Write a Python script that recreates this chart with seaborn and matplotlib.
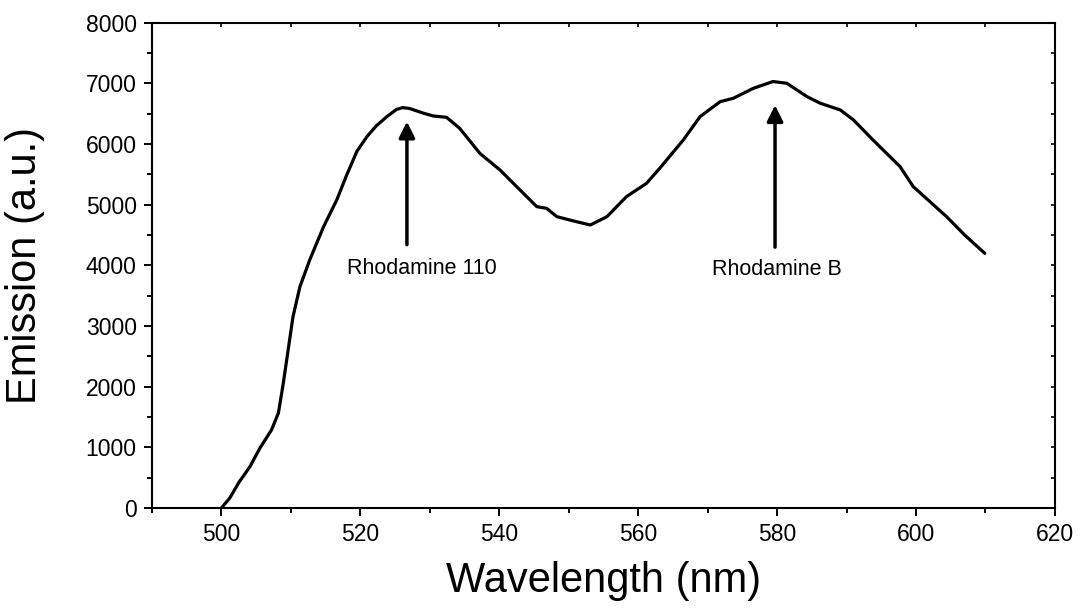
import matplotlib
matplotlib.use("Agg")
import matplotlib.pyplot as plt
import seaborn as sns
import pandas as pd
from matplotlib.ticker import MultipleLocator

wavelength = [500, 501.2, 502.5, 504.1, 505.5, 507.2, 508.2, 508.9, 509.6, 510.3,
              511.3, 512.7, 514.7, 516.6, 518.0, 519.5, 521.0, 522.3, 523.8, 525.2,
              526.1, 527.1, 529.1, 530.5, 532.4, 534.3, 537.2, 540.1, 542.5, 545.4,
              546.8, 548.3, 550.7, 553.1, 555.5, 558.3, 561.2, 563.1, 566.5, 568.9,
              571.8, 573.7, 576.6, 579.4, 581.4, 584.3, 586.2, 589.1, 591.0, 593.8,
              597.7, 599.6, 602.0, 604.4, 607.0, 609.9]
emission = [0, 165, 420, 681, 980, 1286, 1566, 2055, 2605, 3154,
            3649, 4088, 4637, 5078, 5480, 5880, 6130, 6300, 6450, 6570,
            6600, 6585, 6507, 6462, 6440, 6258, 5846, 5572, 5297, 4967,
            4940, 4802, 4731, 4665, 4802, 5132, 5352, 5600, 6067, 6451,
            6698, 6754, 6919, 7030, 7001, 6781, 6672, 6561, 6396, 6067,
            5627, 5297, 5050, 4802, 4500, 4198]

peak_labels = ["Rhodamine 110", "Rhodamine B"]
peak_x = [526.7, 579.7]
arrow_tip = [6370, 6640]
arrow_tail = [4340, 4300]
label_x = [528.8, 579.9]
label_y = [3950, 3930]

sns.set_theme(style="ticks")
plt.rcParams['font.family'] = ['Liberation Sans', 'DejaVu Sans']

df = pd.DataFrame({"Wavelength": wavelength, "Emission": emission})

fig = plt.figure(figsize=(10.85, 6.08), dpi=100)
ax = fig.add_axes([0.1401, 0.1645, 0.8322, 0.7982])
sns.lineplot(data=df, x="Wavelength", y="Emission", color="black", lw=2.3, ax=ax)

ax.set_xlim(490, 620)
ax.set_ylim(0, 8000)
ax.xaxis.set_major_locator(MultipleLocator(20))
ax.xaxis.set_minor_locator(MultipleLocator(10))
ax.yaxis.set_major_locator(MultipleLocator(1000))
ax.yaxis.set_minor_locator(MultipleLocator(500))
ax.tick_params(which='major', direction='out', length=6, width=1.4, labelsize=16.5,
               colors='black', pad=5)
ax.tick_params(which='minor', direction='out', length=3.5, width=1.4, colors='black')
ax.set_xlabel("Wavelength (nm)", fontsize=30, color='black')
ax.set_ylabel("Emission (a.u.)", fontsize=30, color='black')
ax.xaxis.set_label_coords(0.5, -0.109)
ax.yaxis.set_label_coords(-0.1185, 0.5)
for s in ax.spines.values():
    s.set_linewidth(1.5)
    s.set_color('black')

top = ax.secondary_xaxis('top')
top.xaxis.set_major_locator(MultipleLocator(10))
top.tick_params(direction='in', length=3, width=1.2, labeltop=False, colors='black')
right = ax.secondary_yaxis('right')
right.yaxis.set_major_locator(MultipleLocator(500))
right.tick_params(direction='in', length=3, width=1.2, labelright=False, colors='black')

for lbl, px, tip, tail, lx, ly in zip(peak_labels, peak_x, arrow_tip, arrow_tail, label_x, label_y):
    ax.annotate("", xy=(px, tip), xytext=(px, tail),
                arrowprops=dict(arrowstyle='-|>', lw=2.5, color='black', mutation_scale=24,
                                shrinkA=0, shrinkB=0))
    ax.text(lx, ly, lbl, ha='center', va='center', fontsize=15.5, color='black')

fig.savefig("out.png", dpi=100)
